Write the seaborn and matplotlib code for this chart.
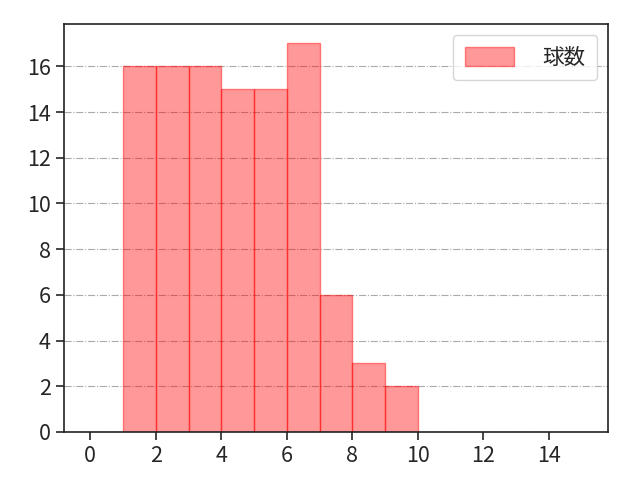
import seaborn as sns
import matplotlib.pyplot as plt
import numpy as np

# pitch counts per bin (bin starts at 1, width 1)
bin_starts = [1, 2, 3, 4, 5, 6, 7, 8, 9]
counts = [16, 16, 16, 15, 15, 17, 6, 3, 2]
bin_edges = list(range(1, 11))
label = '球数'

sns.set_style('ticks')
plt.rcParams['font.family'] = ['Noto Sans CJK JP', 'DejaVu Sans']

fig, ax = plt.subplots(figsize=(6.4, 4.8), dpi=100)
fig.subplots_adjust(left=0.1, right=0.95, top=0.95, bottom=0.1)

sns.histplot(x=np.array(bin_starts) + 0.5, weights=counts, bins=bin_edges,
             color='red', alpha=0.4, edgecolor=(1, 0, 0, 0.45), linewidth=1.0,
             label=label, ax=ax)

ax.set_xlim(-0.8, 15.8)
ax.set_ylim(0, 17.85)
ax.set_xticks(range(0, 16, 2))
ax.set_yticks(range(0, 17, 2))
ax.set_xlabel('')
ax.set_ylabel('')
ax.grid(axis='y', linestyle='-.', color='#aaaaaa', linewidth=0.8)
ax.set_axisbelow(True)
ax.tick_params(labelsize=15.5, length=6, width=1.2)
for s in ax.spines.values():
    s.set_linewidth(1.2)
    s.set_color('#222222')
ax.legend(loc='upper right', fontsize=15.5, handlelength=2.3, handleheight=1.0,
          borderpad=0.55, handletextpad=1.3)

plt.savefig('out.png')
